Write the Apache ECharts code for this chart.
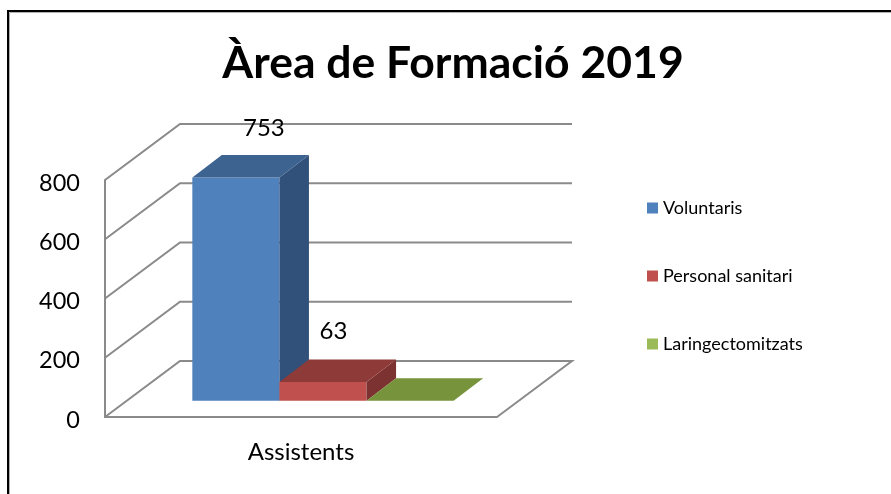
<!DOCTYPE html>
<html>
<head>
<meta charset="utf-8">
<style>html,body{margin:0;padding:0;background:#fff}#c{width:891px;height:494px}</style>
<script src="https://cdn.jsdelivr.net/npm/echarts@6/dist/echarts.min.js"></script>
</head>
<body>
<div id="c"></div>
<script>
const titleText = 'Àrea de Formació 2019';
const categories = ['Assistents'];
const seriesNames = ['Voluntaris', 'Personal sanitari', 'Laringectomitzats'];
const voluntaris = [753];
const personalSanitari = [63];
const laringectomitzats = [0];
const yTicks = [0, 200, 400, 600, 800];

const seriesValues = [voluntaris, personalSanitari, laringectomitzats];
const frontColors = ['#4F81BD', '#C0504D', '#9BBB59'];
const topColors = ['#3D6390', '#8E3A38', '#77933C'];
const sideColors = ['#31507A', '#7C3230', '#66802F'];
const labelOffsets = [[28, -27], [10.5, -28]];

const wallDepth = [75, -56];
const barFront = [22, -16.3];
const barDepth = [29.5, -22.5];
const gridColor = '#8A8A8A';

const chart = echarts.init(document.getElementById('c'), null, { renderer: 'canvas' });

function poly(points, fill) {
  return { type: 'polygon', shape: { points }, style: { fill, stroke: null } };
}

function renderWall(params, api) {
  const v = api.value(0);
  const p = api.coord([0, v]);
  const band = api.size([1, 0])[0];
  const x0 = p[0] - band / 2, x1 = p[0] + band / 2, y = p[1];
  const bx = x0 + wallDepth[0], by = y + wallDepth[1], rx = x1 + wallDepth[0];
  const pts = v === 0
    ? [[x0, y], [bx, by], [rx, by], [x1, y]]
    : [[x0, y], [bx, by], [rx, by]];
  return {
    type: 'polyline', shape: { points: pts },
    style: { stroke: gridColor, lineWidth: 2, fill: null }
  };
}

function makeBarRenderer(idx) {
  return function (params, api) {
    const top = api.coord([0, api.value(1)]);
    const base = api.coord([0, 0]);
    const band = api.size([1, 0])[0];
    const w = band / 4.5;
    const left = top[0] - 1.5 * w + idx * w + barFront[0];
    const right = left + w;
    const yb = base[1] + barFront[1];
    const yt = top[1] + barFront[1];
    const dx = barDepth[0], dy = barDepth[1];
    const children = [
      poly([[left, yb], [right, yb], [right, yt], [left, yt]], frontColors[idx]),
      poly([[right, yb], [right + dx, yb + dy], [right + dx, yt + dy], [right, yt]], sideColors[idx]),
      poly([[left, yt], [right, yt], [right + dx, yt + dy], [left + dx, yt + dy]], topColors[idx])
    ];
    if (labelOffsets[idx]) {
      children.push({
        type: 'text', z2: 10,
        style: {
          text: String(api.value(1)),
          x: (left + right) / 2 + labelOffsets[idx][0],
          y: yt + dy + labelOffsets[idx][1],
          align: 'center', verticalAlign: 'middle',
          font: '24px Lato', fill: '#000'
        }
      });
    }
    return { type: 'group', children };
  };
}

const barSeries = seriesNames.map((name, i) => ({
  name,
  type: 'custom',
  renderItem: makeBarRenderer(i),
  data: categories.map((c, k) => [k, seriesValues[i][k]]),
  encode: { x: 0, y: 1 },
  itemStyle: { color: frontColors[i] },
  z: 3 + i,
  silent: true
}));

chart.setOption({
  animation: false,
  backgroundColor: '#fff',
  title: {
    text: titleText, left: 448, top: 36, textAlign: 'center',
    textStyle: { fontFamily: 'Lato', fontWeight: 'bold', fontSize: 44.5, color: '#000' }
  },
  legend: {
    orient: 'vertical', left: 647, top: 199, padding: 0,
    icon: 'rect', itemWidth: 11, itemHeight: 11, itemGap: 50,
    selectedMode: false,
    data: seriesNames,
    textStyle: { fontFamily: 'Lato', fontSize: 18, color: '#000' }
  },
  grid: { left: 105, top: 180, width: 392, height: 237, containLabel: false },
  xAxis: {
    type: 'category', data: categories,
    axisTick: { show: false },
    axisLine: { lineStyle: { color: gridColor, width: 2 } },
    axisLabel: { margin: 23, fontFamily: 'Lato', fontSize: 24, color: '#000' }
  },
  yAxis: {
    type: 'value', min: 0, max: 800, interval: 200,
    splitLine: { show: false },
    axisTick: { show: false },
    axisLine: { show: true, lineStyle: { color: gridColor, width: 2 } },
    axisLabel: {
      margin: 25, color: '#000', formatter: '{t|{value}}',
      rich: { t: { fontFamily: 'Lato', fontSize: 23.5, color: '#000', padding: [6, 0, 0, 0] } }
    }
  },
  graphic: [{
    type: 'polyline', silent: true,
    shape: { points: [[9.5, 494], [9.5, 12.5], [891, 12.5]] },
    style: { stroke: '#B0B0B0', lineWidth: 1, fill: null }
  }, {
    type: 'polyline', silent: true,
    shape: { points: [[8, 494], [8, 11], [891, 11]] },
    style: { stroke: '#000', lineWidth: 2, fill: null }
  }],
  series: [{
    name: 'wall', type: 'custom', renderItem: renderWall,
    data: yTicks.map(v => [v]), encode: { y: 0 }, z: 1, silent: true
  }].concat(barSeries)
});
</script>
</body>
</html>
